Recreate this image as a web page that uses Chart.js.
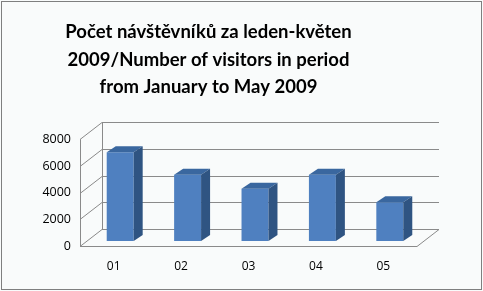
<!DOCTYPE html>
<html>
<head>
<meta charset="utf-8">
<script src="https://cdn.jsdelivr.net/npm/chart.js@4"></script>
<style>
html, body { margin: 0; padding: 0; background: #fff; }
</style>
</head>
<body>
<canvas id="visitorsC" width="483" height="291"></canvas>
<script>
// chart data
const titleLines = ['Počet návštěvníků za leden-květen', '2009/Number of visitors in period', 'from January to May 2009'];
const months = ['01', '02', '03', '04', '05'];
const visitors = [6650, 4970, 3920, 4970, 2900];
const yMax = 8000;
const yStep = 2000;

// fake 3d look: back wall offset and bar depth
const wall = { dx: 22, dy: -17 };
const barShift = { dx: 6.5, dy: -5 };
const barDepth = { dx: 9, dy: -6 };

const frame = {
	id: 'frame',
	beforeDraw(chart) {
		const ctx = chart.ctx;
		ctx.save();
		ctx.fillStyle = '#f9fbfb';
		ctx.fillRect(0, 0, chart.width, chart.height);
		ctx.strokeStyle = '#7f7f7f';
		ctx.lineWidth = 1;
		ctx.strokeRect(1.5, 1.5, chart.width - 3, chart.height - 3);
		ctx.restore();
	}
};

const walls = {
	id: 'walls',
	beforeDatasetsDraw(chart) {
		const ctx = chart.ctx;
		const { left, right, top, bottom } = chart.chartArea;
		const y = chart.scales.y;
		ctx.save();
		ctx.strokeStyle = '#8a8a8a';
		ctx.lineWidth = 1;
		ctx.beginPath();
		y.ticks.forEach(t => {
			const py = Math.round(y.getPixelForValue(t.value)) + 0.5;
			ctx.moveTo(left, py);
			ctx.lineTo(left + wall.dx, py + wall.dy);
			ctx.lineTo(right + wall.dx, py + wall.dy);
		});
		// side wall edges
		ctx.moveTo(left + 0.5, top);
		ctx.lineTo(left + 0.5, bottom);
		ctx.moveTo(left + wall.dx + 0.5, top + wall.dy);
		ctx.lineTo(left + wall.dx + 0.5, bottom + wall.dy);
		// floor
		ctx.moveTo(left, bottom + 0.5);
		ctx.lineTo(right, bottom + 0.5);
		ctx.lineTo(right + wall.dx, bottom + 0.5 + wall.dy);
		ctx.stroke();
		ctx.restore();
	},
	beforeDatasetDraw(chart) {
		chart.ctx.save();
		chart.ctx.translate(barShift.dx, barShift.dy);
	},
	afterDatasetDraw(chart, args) {
		const ctx = chart.ctx;
		ctx.restore();
		args.meta.data.forEach(el => {
			const L = el.x - el.width / 2 + barShift.dx;
			const R = el.x + el.width / 2 + barShift.dx;
			const T = el.y + barShift.dy;
			const B = el.base + barShift.dy;
			ctx.save();
			ctx.fillStyle = '#3a679f';
			ctx.beginPath();
			ctx.moveTo(L, T);
			ctx.lineTo(R, T);
			ctx.lineTo(R + barDepth.dx, T + barDepth.dy);
			ctx.lineTo(L + barDepth.dx, T + barDepth.dy);
			ctx.closePath();
			ctx.fill();
			ctx.fillStyle = '#2f5482';
			ctx.beginPath();
			ctx.moveTo(R, T);
			ctx.lineTo(R + barDepth.dx, T + barDepth.dy);
			ctx.lineTo(R + barDepth.dx, B + barDepth.dy);
			ctx.lineTo(R, B);
			ctx.closePath();
			ctx.fill();
			ctx.restore();
		});
	}
};

new Chart(document.getElementById('visitorsC'), {
	type: 'bar',
	data: {
		labels: months,
		datasets: [{
			data: visitors,
			backgroundColor: '#4f80c0',
			categoryPercentage: 1,
			barPercentage: 0.4
		}]
	},
	options: {
		responsive: false,
		animation: false,
		devicePixelRatio: 1,
		layout: { padding: { top: 10, left: 0, right: 66, bottom: 0 } },
		plugins: {
			legend: { display: false },
			tooltip: { enabled: false },
			title: {
				display: true,
				text: titleLines,
				color: '#000',
				font: { family: 'Lato', weight: 'bold', size: 18.5, lineHeight: 1.5 },
				padding: { top: 8, bottom: 38 }
			}
		},
		scales: {
			x: {
				grid: { display: false },
				border: { display: false },
				ticks: { color: '#000', padding: 5, font: { family: 'Open Sans', size: 12 } },
				afterFit: s => { s.height = 45; }
			},
			y: {
				min: 0,
				max: yMax,
				grid: { display: false },
				border: { display: false },
				ticks: { stepSize: yStep, color: '#000', padding: 1, font: { family: 'Open Sans', size: 12.5 }, callback: v => String(v) },
				afterFit: s => { s.width = 80; }
			}
		}
	},
	plugins: [frame, walls]
});
</script>
</body>
</html>
